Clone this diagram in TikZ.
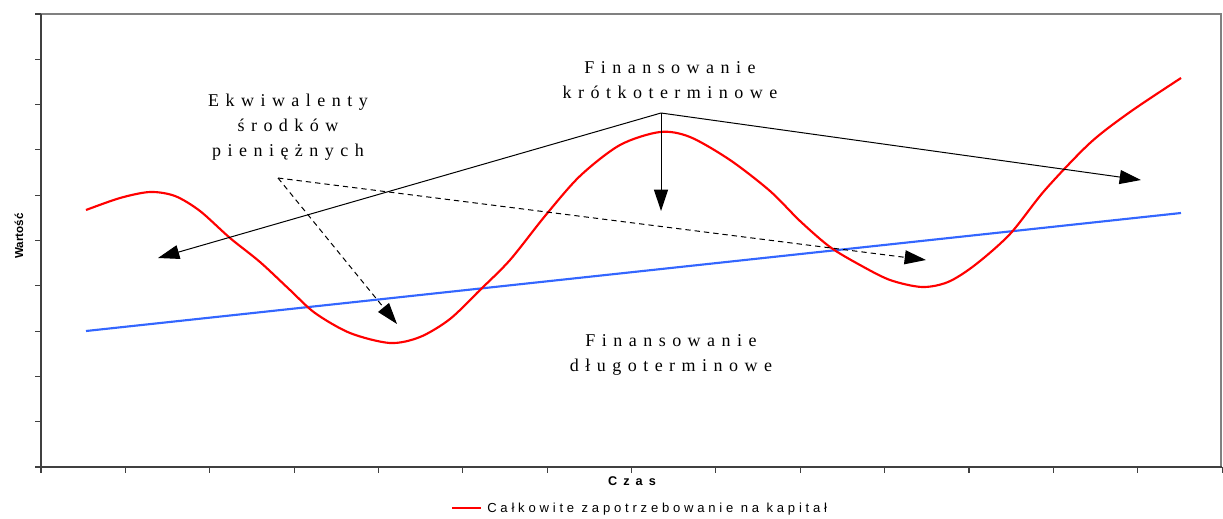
\documentclass[tikz,border=0pt]{standalone}
\usepackage{fontspec}
\setmainfont{Liberation Serif}
\setsansfont{Liberation Sans}
\usetikzlibrary{arrows.meta}
\tikzset{
  lbl/.style={font=\fontsize{13.5pt}{18.75pt}\selectfont\addfontfeature{LetterSpace=36}, align=center, inner sep=0pt},
  arr/.style={line width=0.75pt, -{Triangle[length=16pt,width=10.5pt]}},
  darr/.style={arr, dash pattern=on 4pt off 3pt},
  tick/.style={line width=0.8pt, draw=black!75},
  axis/.style={line width=0.9pt, draw=black!75},
  frame/.style={line width=0.9pt, draw=black!50},
  demand/.style={line width=1.6pt, draw={rgb,255:red,255;green,0;blue,0}, line join=round},
  perm/.style={line width=1.6pt, draw={rgb,255:red,51;green,102;blue,255}},
  small/.style={font=\sffamily\bfseries\fontsize{8.7pt}{10pt}\selectfont, inner sep=0pt},
}
\begin{document}
\begin{tikzpicture}[x=0.75pt,y=-0.75pt]
\useasboundingbox (0,0) rectangle (1223,518);
% frame
\draw[frame] (41,14) -- (1221,14) -- (1221,467);
\draw[axis] (41,14) -- (41,467) -- (1222,467);
\foreach \y in {14,59.3,104.6,149.9,195.2,240.5,285.8,331.1,376.4,421.7,467} \draw[tick] (35,\y) -- (41,\y);
\foreach \i in {0,...,14} \draw[tick] ({41+84.36*\i},467) -- ({41+84.36*\i},473);
% axis labels
\node[small, rotate=90] (ylab) at (19,236) {Wartość};
\node[small, font=\sffamily\bfseries\fontsize{9.5pt}{10pt}\selectfont\addfontfeature{LetterSpace=48}] (xlab) at (632,481) {Czas};
% legend
\draw[line width=2.2pt, draw={rgb,255:red,255;green,0;blue,0}] (452,508) coordinate (lg1) -- (481,508) coordinate (lg2);
\node[anchor=west, inner sep=0pt, font=\sffamily\fontsize{9.8pt}{11pt}\selectfont\addfontfeature{LetterSpace=29}] (leg) at (487,509) {Całkowite zapotrzebowanie na kapitał};
% blue line
\draw[perm] (86,331) coordinate (b1) -- (1181,213) coordinate (b2);
% red curve
\draw[demand] plot[smooth, tension=0.5] coordinates {(86,210) (120,198) (150,192) (175,196) (200,211) (230,238) (260,262) (290,290) (315,313) (350,333) (390,343) (420,337) (450,319) (480,290) (510,260) (545,216) (580,176) (620,145) (660,132) (690,137) (730,160) (770,191) (800,221) (830,247) (860,265) (890,280) (922,287) (948,282) (975,265) (1010,234) (1045,190) (1090,143) (1130,112) (1181,78)};
% labels
\node[lbl] (st) at (670,80) {Finansowanie\\krótkoterminowe};
\node[lbl] (ek) at (288,127) {Ekwiwalenty\\środków\\pieniężnych};
\node[lbl] (lt) at (671,355) {Finansowanie\\długoterminowe};
% arrows
\coordinate (apex) at (661,113);
\coordinate (sa) at (158,258);
\coordinate (sb) at (1141,180);
\coordinate (sc) at (661,211);
\coordinate (dsrc) at (278,178);
\coordinate (da) at (397,324);
\coordinate (db) at (926,260);
\draw[arr] (apex) -- (sa);
\draw[arr] (apex) -- (sb);
\draw[arr] (apex) -- (sc);
\draw[darr] (dsrc) -- (da);
\draw[darr] (dsrc) -- (db);
\end{tikzpicture}
\end{document}
